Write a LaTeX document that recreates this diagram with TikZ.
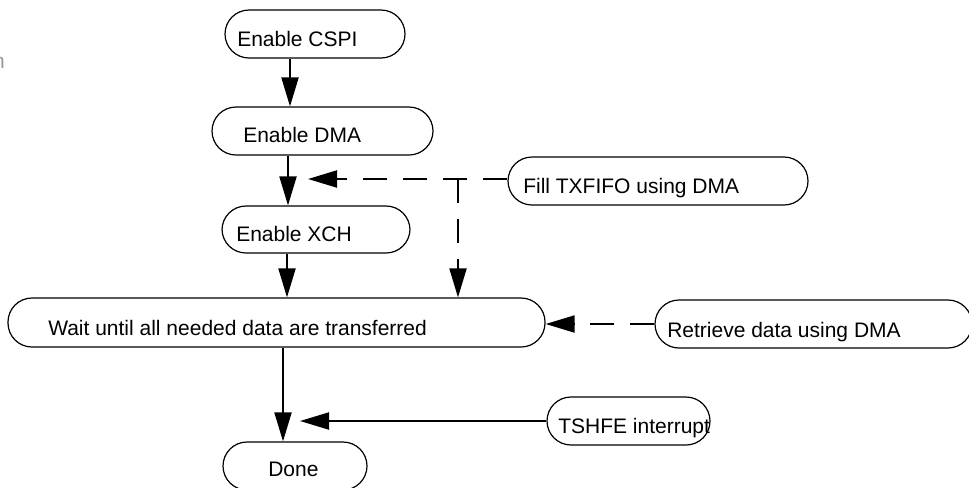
\documentclass[tikz,border=0pt]{standalone}
\usepackage{fontspec}
\setmainfont{Liberation Sans}
\usetikzlibrary{arrows.meta,fit}
\begin{document}
\begin{tikzpicture}[x=0.75pt,y=-0.75pt,
  box/.style={draw, line width=0.9pt, rounded corners=18pt, inner sep=0pt},
  lbl/.style={anchor=base west, inner sep=0pt, font=\fontsize{15.75}{18}\selectfont},
  arr/.style={line width=1.5pt, -{Triangle[length=21.75pt,width=12.75pt]}},
  darr/.style={arr, dash pattern=on 18pt off 12pt}]
\useasboundingbox (0,0) rectangle (969,487);
% boxes
\node[box, fit={(225,10) (405,58)}] (cspi) {};
\node[lbl] (tcspi) at (237,46) {Enable CSPI};
\node[box, fit={(212,107) (433,155)}] (dma) {};
\node[lbl] (tdma) at (243,142) {Enable DMA};
\node[box, fit={(222,206) (410,253)}] (xch) {};
\node[lbl] (txch) at (236,241) {Enable XCH};
\node[box, fit={(8,298) (545,347)}] (wait) {};
\node[lbl] (twait) at (48,335) {Wait until all needed data are transferred};
\node[box, fit={(508,157) (808,205)}] (fill) {};
\node[lbl] (tfill) at (523,193) {Fill TXFIFO using DMA};
\node[box, fit={(655,300) (972,348)}] (ret) {};
\node[lbl] (tret) at (667,337) {Retrieve data using DMA};
\node[box, fit={(547,397) (710,445)}] (tshfe) {};
\node[lbl] (ttshfe) at (558,433) {TSHFE interrupt};
\node[box, fit={(223,442) (367,490)}] (done) {};
\node[lbl] (tdone) at (268,476) {Done};
\node[lbl, anchor=base east, text=black!40] (frag) at (5,68) {n};
% connectors
\coordinate (a1) at (290,0);
\coordinate (a2) at (288,0);
\coordinate (a3) at (287,0);
\coordinate (a4) at (283,0);
\coordinate (h1) at (308,179);
\coordinate (j1) at (458,179);
\coordinate (h2) at (300,0);
\draw[arr] (cspi.south -| a1) -- (dma.north -| a1);
\draw[arr] (dma.south -| a2) -- (xch.north -| a2);
\draw[arr] (xch.south -| a3) -- (wait.north -| a3);
\draw[arr] (wait.south -| a4) -- (done.north -| a4);
\draw[darr] (fill.west |- h1) -- (h1);
\draw[darr] (j1) -- (wait.north -| j1);
\draw[darr] (ret.west) -- (ret.west -| wait.east);
\draw[arr] (tshfe.west) -- (tshfe.west -| h2);
\end{tikzpicture}
\end{document}
